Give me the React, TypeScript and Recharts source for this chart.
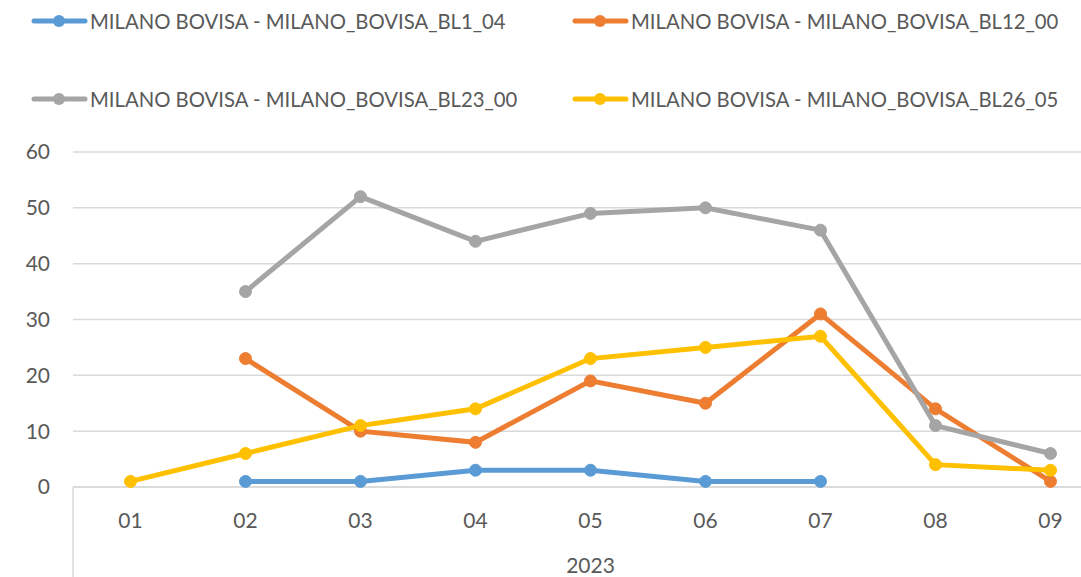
import { CartesianGrid, Legend, Line, LineChart, XAxis, YAxis } from 'recharts';

const months = ['01', '02', '03', '04', '05', '06', '07', '08', '09'];
const year = '2023';

const bl1_04 = [null, 1, 1, 3, 3, 1, 1, null, null];
const bl12_00 = [null, 23, 10, 8, 19, 15, 31, 14, 1];
const bl23_00 = [null, 35, 52, 44, 49, 50, 46, 11, 6];
const bl26_05 = [1, 6, 11, 14, 23, 25, 27, 4, 3];

const yTicks = [0, 10, 20, 30, 40, 50, 60];

const series = [
  { key: 'bl1', name: 'MILANO BOVISA - MILANO_BOVISA_BL1_04', color: '#5B9BD5', values: bl1_04 },
  { key: 'bl12', name: 'MILANO BOVISA - MILANO_BOVISA_BL12_00', color: '#ED7D31', values: bl12_00 },
  { key: 'bl23', name: 'MILANO BOVISA - MILANO_BOVISA_BL23_00', color: '#A5A5A5', values: bl23_00 },
  { key: 'bl26', name: 'MILANO BOVISA - MILANO_BOVISA_BL26_05', color: '#FFC000', values: bl26_05 },
];

const data = months.map((m, i) => {
  const row: Record<string, string | number | null> = { month: m, year };
  series.forEach((s) => {
    row[s.key] = s.values[i];
  });
  return row;
});

const font = 'Lato, "Open Sans", sans-serif';
const textInk = '#595959';
const gridInk = '#D9D9D9';
const monthAxisHeight = 58;

function LegendBlock() {
  return (
    <div style={{ position: 'relative', width: 1081, height: 120, fontFamily: font }}>
      {series.map((s, i) => {
        const col = i % 2;
        const row = Math.floor(i / 2);
        return (
          <div
            key={s.key}
            style={{
              position: 'absolute',
              left: col === 0 ? 31 : 572,
              top: row === 0 ? 9 : 87,
              height: 24,
              display: 'flex',
              alignItems: 'center',
              whiteSpace: 'nowrap',
            }}
          >
            <svg width={57} height={24} style={{ display: 'block' }}>
              <line x1={3} y1={12} x2={54} y2={12} stroke={s.color} strokeWidth={5} strokeLinecap="round" />
              <circle cx={28} cy={12} r={6} fill={s.color} />
            </svg>
            <span style={{ fontSize: 20.3, color: textInk, marginLeft: 2 }}>{s.name}</span>
          </div>
        );
      })}
    </div>
  );
}

function YearTick(props: any) {
  const { x, y, payload, width } = props;
  const w = typeof width === 'number' ? width : 1035;
  const left = x - w / 2;
  const right = x + w / 2;
  return (
    <g>
      <line x1={left} y1={y - monthAxisHeight} x2={left} y2={y + 100} stroke={gridInk} strokeWidth={1.5} />
      <line x1={right} y1={y - monthAxisHeight} x2={right} y2={y + 100} stroke={gridInk} strokeWidth={1.5} />
      <text x={x} y={y + 28} textAnchor="middle" fill={textInk} fontSize={21} fontFamily={font}>
        {payload.value}
      </text>
    </g>
  );
}

export default function App() {
  return (
    <div
      style={{
        position: 'absolute',
        left: 0,
        top: 0,
        width: 1081,
        height: 577,
        overflow: 'hidden',
        background: '#fff',
      }}
    >
      <LineChart
        width={1110}
        height={620}
        data={data}
        margin={{ top: 32, right: 2, left: 0, bottom: 0 }}
      >
        <CartesianGrid horizontal vertical={false} stroke={gridInk} strokeWidth={1.5} />
        <XAxis
          dataKey="month"
          height={monthAxisHeight}
          padding={{ left: 57.5, right: 57.5 }}
          tickLine={false}
          tickSize={0}
          tickMargin={26}
          axisLine={{ stroke: gridInk, strokeWidth: 1.5 }}
          tick={{ fill: textInk, fontSize: 21, fontFamily: font }}
        />
        <XAxis
          xAxisId="year"
          dataKey="year"
          allowDuplicatedCategory={false}
          height={75}
          axisLine={false}
          tickLine={false}
          tickSize={0}
          tickMargin={0}
          tick={<YearTick />}
        />
        <YAxis
          domain={[0, 60]}
          ticks={yTicks}
          width={73}
          axisLine={false}
          tickLine={false}
          tickSize={0}
          tickMargin={23}
          tick={{ fill: textInk, fontSize: 21, fontFamily: font }}
        />
        <Legend
          verticalAlign="top"
          wrapperStyle={{ top: 0, left: 0 }}
          content={() => <LegendBlock />}
        />
        {series.map((s) => (
          <Line
            key={s.key}
            dataKey={s.key}
            name={s.name}
            stroke={s.color}
            strokeWidth={5}
            dot={{ r: 6, fill: s.color, stroke: s.color, strokeWidth: 1 }}
            activeDot={false}
            isAnimationActive={false}
          />
        ))}
      </LineChart>
    </div>
  );
}
